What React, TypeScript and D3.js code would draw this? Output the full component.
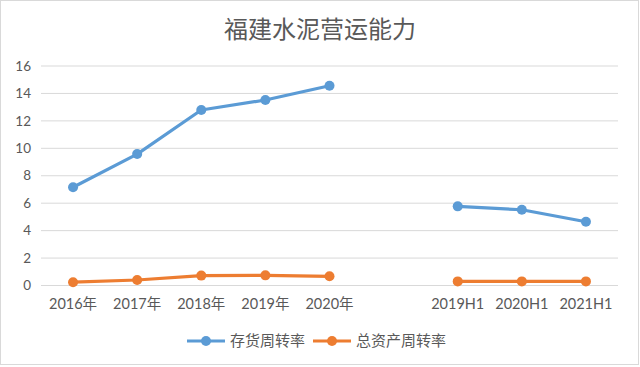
import React from "react";
import * as d3 from "d3";

const categories = ["2016年", "2017年", "2018年", "2019年", "2020年", "", "2019H1", "2020H1", "2021H1"];
const inventoryTurnover: (number | null)[] = [7.16, 9.58, 12.79, 13.52, 14.56, null, 5.77, 5.52, 4.65];
const assetTurnover: (number | null)[] = [0.24, 0.4, 0.72, 0.74, 0.67, null, 0.3, 0.3, 0.3];
const yTicks = [0, 2, 4, 6, 8, 10, 12, 14, 16];
const seriesNames = ["存货周转率", "总资产周转率"];
const colors = ["#5B9BD5", "#ED7D31"];

const W = 640, H = 367;
const left = 41, right = 618, top = 66, bottom = 285.5;
const font = "Lato, 'Noto Sans CJK SC', sans-serif";

export default function App() {
  const x = d3.scaleBand<string>().domain(categories.map((c, i) => String(i))).range([left, right]);
  const y = d3.scaleLinear().domain([0, 16]).range([bottom, top]);
  const cx = (i: number) => (x(String(i)) as number) + x.bandwidth() / 2;
  const line = d3
    .line<number | null>()
    .defined((d) => d !== null)
    .x((_, i) => cx(i))
    .y((d) => y(d as number));
  const series = [inventoryTurnover, assetTurnover];
  const legendX = [187, 313];

  return (
    <svg width={W} height={H} style={{ position: "absolute", left: 0, top: 0, background: "#fff" }}>
      <rect x={0.5} y={0.5} width={638} height={364} fill="#fff" stroke="#D9D9D9" />
      <text x={320} y={38} textAnchor="middle" fontSize={24} fill="#595959" fontFamily={font}>
        福建水泥营运能力
      </text>
      {yTicks.map((t) => (
        <g key={t}>
          <line x1={left} x2={right} y1={y(t)} y2={y(t)} stroke="#D9D9D9" strokeWidth={1} />
          <text x={31} y={y(t)} dy="0.35em" textAnchor="end" fontSize={13.5} fill="#595959" fontFamily={font}>
            {t}
          </text>
        </g>
      ))}
      {categories.map((c, i) => (
        <text key={i} x={cx(i)} y={309} textAnchor="middle" fontSize={14.5} fill="#595959" fontFamily={font}>
          {c}
        </text>
      ))}
      {series.map((s, si) => (
        <g key={si}>
          <path d={line(s) || ""} fill="none" stroke={colors[si]} strokeWidth={3.2} strokeLinejoin="round" strokeLinecap="round" />
          {s.map((v, i) =>
            v === null ? null : <circle key={i} cx={cx(i)} cy={y(v)} r={5} fill={colors[si]} />
          )}
        </g>
      ))}
      {seriesNames.map((n, si) => (
        <g key={n}>
          <line x1={legendX[si]} x2={legendX[si] + 38} y1={341} y2={341} stroke={colors[si]} strokeWidth={3.2} />
          <circle cx={legendX[si] + 19} cy={341} r={5} fill={colors[si]} />
          <text x={legendX[si] + 43} y={341} dy="0.35em" fontSize={15} fill="#595959" fontFamily={font}>
            {n}
          </text>
        </g>
      ))}
    </svg>
  );
}
